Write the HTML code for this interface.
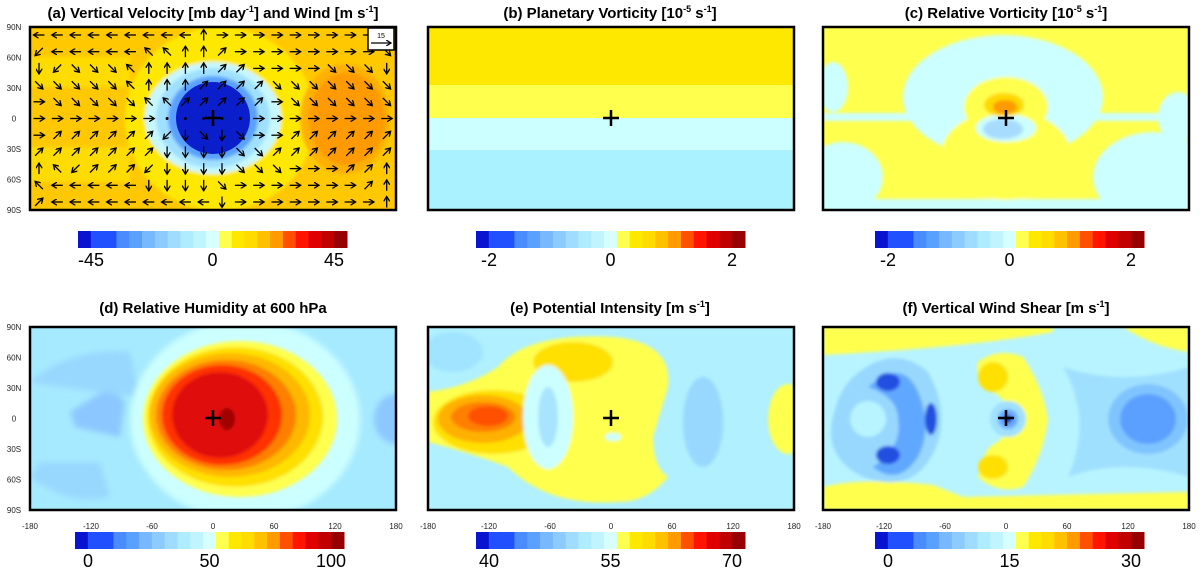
<!DOCTYPE html>
<html><head><meta charset="utf-8"><style>
body{margin:0;background:#fff;}
svg{display:block;font-family:"Liberation Sans",sans-serif;}
.t{font-weight:bold;font-size:15px;text-anchor:middle;}
.ax{font-size:8px;fill:#222;}
.cb{font-size:18px;text-anchor:middle;}
</style></head><body>
<svg id="fig" width="1200" height="570" viewBox="0 0 1200 570">
<defs>
<filter id="bl" x="-20%" y="-20%" width="140%" height="140%"><feGaussianBlur stdDeviation="3"/></filter>
<filter id="bl2"><feGaussianBlur stdDeviation="1.5"/></filter>
<clipPath id="cp"><rect x="0" y="0" width="366" height="183"/></clipPath>
<marker id="ah" markerWidth="5" markerHeight="5" refX="4" refY="2.5" orient="auto"><path d="M0,0 L4,2.5 L0,5" fill="none" stroke="#000" stroke-width="1"/></marker>
</defs>

<!-- titles -->
<text class="t" x="213" y="18">(a) Vertical Velocity [mb day<tspan dy="-6" font-size="9">-1</tspan><tspan dy="6">] and Wind [m s</tspan><tspan dy="-6" font-size="9">-1</tspan><tspan dy="6">]</tspan></text>
<text class="t" x="610" y="18">(b) Planetary Vorticity [10<tspan dy="-6" font-size="9">-5</tspan><tspan dy="6"> s</tspan><tspan dy="-6" font-size="9">-1</tspan><tspan dy="6">]</tspan></text>
<text class="t" x="1006" y="18">(c) Relative Vorticity [10<tspan dy="-6" font-size="9">-5</tspan><tspan dy="6"> s</tspan><tspan dy="-6" font-size="9">-1</tspan><tspan dy="6">]</tspan></text>
<text class="t" x="213" y="313">(d) Relative Humidity at 600 hPa</text>
<text class="t" x="610" y="313">(e) Potential Intensity [m s<tspan dy="-6" font-size="9">-1</tspan><tspan dy="6">]</tspan></text>
<text class="t" x="1006" y="313">(f) Vertical Wind Shear [m s<tspan dy="-6" font-size="9">-1</tspan><tspan dy="6">]</tspan></text>

<!-- panel a -->
<g transform="translate(30,27)">
 <g clip-path="url(#cp)">
  <rect width="366" height="183" fill="#ffc800"/>
  <g filter="url(#bl2)">
   <rect x="-10" y="30" width="110" height="30" fill="#ffdc00"/>
   <rect x="-10" y="120" width="110" height="35" fill="#ffdc00"/>
   <ellipse cx="190" cy="92" rx="95" ry="92" fill="#ffe800"/>
   <ellipse cx="315" cy="92" rx="45" ry="55" fill="#ffb000"/>
   <ellipse cx="317" cy="92" rx="38" ry="46" fill="#ff9a00"/>
   <ellipse cx="183" cy="91" rx="68" ry="56" fill="#c8f8ff"/>
   <ellipse cx="183" cy="91" rx="57" ry="50" fill="#a0e0ff"/>
   <ellipse cx="183" cy="91" rx="45" ry="42" fill="#5aa0ff"/>
  </g>
  <ellipse cx="183" cy="91" rx="37" ry="36" fill="#0a1ecc"/>
  <g id="arrows"></g>
 </g>
 <rect x="338" y="1" width="26" height="22" fill="#fff" stroke="#000" stroke-width="1.5"/>
 <text x="351" y="11" font-size="7" text-anchor="middle">15</text>
 <line x1="341" y1="16" x2="361" y2="16" stroke="#000" stroke-width="1.2" marker-end="url(#ah)"/>
 <rect width="366" height="183" fill="none" stroke="#000" stroke-width="2.5"/>
 <path d="M175,91h16M183,83v16" stroke="#000" stroke-width="2.5"/>
</g>

<!-- panel b -->
<g transform="translate(428,27)">
 <rect width="366" height="58" fill="#ffe800"/>
 <rect y="58" width="366" height="33" fill="#ffff4d"/>
 <rect y="91" width="366" height="32" fill="#ccffff"/>
 <rect y="123" width="366" height="60" fill="#aaf2ff"/>
 <rect width="366" height="183" fill="none" stroke="#000" stroke-width="2.5"/>
 <path d="M175,91h16M183,83v16" stroke="#000" stroke-width="2.5"/>
</g>

<!-- panel c -->
<g transform="translate(823,27)">
 <g clip-path="url(#cp)">
  <rect width="366" height="183" fill="#ffff4d"/>
  <g filter="url(#bl2)">
   <ellipse cx="180" cy="70" rx="100" ry="62" fill="#ccffff"/>
   <rect x="0" y="86" width="366" height="8" fill="#ccffff"/>
   <ellipse cx="330" cy="150" rx="60" ry="45" fill="#ccffff"/>
   <ellipse cx="20" cy="150" rx="40" ry="35" fill="#ccffff"/>
   <rect x="0" y="172" width="366" height="15" fill="#ccffff"/>
   <ellipse cx="10" cy="60" rx="15" ry="25" fill="#ccffff"/>
   <ellipse cx="355" cy="90" rx="20" ry="25" fill="#ccffff"/>
   <ellipse cx="183" cy="80" rx="42" ry="30" fill="#ffff4d"/>
   <ellipse cx="183" cy="128" rx="65" ry="45" fill="#ffff4d"/>
   <ellipse cx="183" cy="101" rx="30" ry="14" fill="#ccffff"/>
   <ellipse cx="180" cy="102" rx="20" ry="10" fill="#a8dcff"/>
   <ellipse cx="181" cy="78" rx="20" ry="12" fill="#ffd800"/>
   <ellipse cx="182" cy="80" rx="12" ry="7" fill="#ff9a00"/>
  </g>
 </g>
 <rect width="366" height="183" fill="none" stroke="#000" stroke-width="2.5"/>
 <path d="M175,91h16M183,83v16" stroke="#000" stroke-width="2.5"/>
</g>

<!-- panel d -->
<g transform="translate(30,327)">
 <g clip-path="url(#cp)">
  <rect width="366" height="183" fill="#a6eaff"/>
  <g filter="url(#bl)">
   <path d="M40,85 L80,60 L95,75 L90,110 L45,100 Z" fill="#8cc8ff"/>
   <path d="M0,55 Q40,20 100,25 L110,70 L30,60 Z" fill="#98d8ff"/>
   <path d="M0,150 Q40,180 80,170 L70,135 L10,135 Z" fill="#98d8ff"/>
   <ellipse cx="366" cy="92" rx="22" ry="25" fill="#8cc8ff"/>
   <ellipse cx="215" cy="93" rx="115" ry="100" fill="#ccffff"/>
  </g>
  <g filter="url(#bl2)">
   <ellipse cx="210" cy="92" rx="97" ry="78" fill="#ffff50"/>
   <ellipse cx="205" cy="90" rx="88" ry="70" fill="#ffe000"/>
   <ellipse cx="200" cy="88" rx="80" ry="62" fill="#ffb800"/>
   <ellipse cx="196" cy="88" rx="70" ry="55" fill="#ff8000"/>
   <ellipse cx="192" cy="88" rx="60" ry="50" fill="#ff3000"/>
   <ellipse cx="190" cy="88" rx="48" ry="43" fill="#e01010"/>
   <ellipse cx="197" cy="92" rx="8" ry="11" fill="#a00000"/>
  </g>
 </g>
 <rect width="366" height="183" fill="none" stroke="#000" stroke-width="2.5"/>
 <path d="M175,91h16M183,83v16" stroke="#000" stroke-width="2.5"/>
</g>

<!-- panel e -->
<g transform="translate(428,327)">
 <g clip-path="url(#cp)">
  <rect width="366" height="183" fill="#b0f0ff"/>
  <g filter="url(#bl2)">
   <ellipse cx="25" cy="25" rx="30" ry="20" fill="#a0e4ff"/>
   <ellipse cx="275" cy="95" rx="20" ry="45" fill="#98d8ff"/>
   <path d="M0,65 Q40,60 70,40 Q100,5 185,10 Q245,15 240,60 L225,110 Q225,140 240,150 Q220,175 190,175 Q120,180 80,140 Q40,125 0,115 Z" fill="#ffff4d"/>
   <ellipse cx="145" cy="35" rx="40" ry="20" fill="#ffe000"/>
   <ellipse cx="65" cy="95" rx="60" ry="32" fill="#ffe000"/>
   <ellipse cx="55" cy="92" rx="45" ry="24" fill="#ffb000"/>
   <ellipse cx="55" cy="90" rx="32" ry="15" fill="#ff8000"/>
   <ellipse cx="60" cy="89" rx="20" ry="10" fill="#ff5000"/>
   <ellipse cx="120" cy="90" rx="25" ry="52" fill="#ccffff"/>
   <ellipse cx="120" cy="90" rx="10" ry="30" fill="#a8e4ff"/>
   <ellipse cx="360" cy="92" rx="20" ry="35" fill="#ffff4d"/>
   <ellipse cx="185" cy="110" rx="8" ry="4" fill="#ccffff"/>
  </g>
 </g>
 <rect width="366" height="183" fill="none" stroke="#000" stroke-width="2.5"/>
 <path d="M175,91h16M183,83v16" stroke="#000" stroke-width="2.5"/>
</g>

<!-- panel f -->
<g transform="translate(823,327)">
 <g clip-path="url(#cp)">
  <rect width="366" height="183" fill="#b8f4ff"/>
  <g filter="url(#bl2)">
   <path d="M0,0 H230 V5 Q150,20 0,28 Z" fill="#ffff4d"/>
   <path d="M300,0 H366 V25 Q330,20 300,0 Z" fill="#ffff4d"/>
   <path d="M0,160 Q40,150 110,158 L140,170 L366,165 V183 H0 Z" fill="#ffff4d"/>
   <path d="M155,35 Q175,20 200,30 Q220,60 225,92 Q220,130 200,160 Q175,168 155,150 Q160,120 175,115 Q200,92 175,68 Q150,55 155,35 Z" fill="#ffff4d"/>
   <ellipse cx="170" cy="50" rx="15" ry="15" fill="#ffe000"/>
   <ellipse cx="170" cy="140" rx="15" ry="12" fill="#ffe000"/>
   <path d="M30,50 Q70,15 105,45 Q125,80 115,115 Q95,170 40,150 Q0,130 10,90 Q15,65 30,50 Z" fill="#98d8ff"/>
   <path d="M45,60 Q80,30 95,65 Q110,100 95,130 Q75,160 50,140 Q80,120 75,92 Q75,70 45,60 Z" fill="#60a8ff"/>
   <ellipse cx="65" cy="55" rx="12" ry="9" fill="#2050e0"/>
   <ellipse cx="108" cy="92" rx="6" ry="16" fill="#2050e0"/>
   <ellipse cx="65" cy="128" rx="12" ry="9" fill="#2050e0"/>
   <ellipse cx="45" cy="92" rx="18" ry="18" fill="#b8f4ff"/>
   <path d="M240,40 Q300,60 366,40 V150 Q300,130 245,150 Q270,92 240,40 Z" fill="#a0e0ff"/>
   <ellipse cx="325" cy="92" rx="40" ry="35" fill="#80c4ff"/>
   <ellipse cx="325" cy="92" rx="28" ry="25" fill="#5ca0ff"/>
   <ellipse cx="185" cy="92" rx="18" ry="18" fill="#a0e0ff"/>
   <ellipse cx="185" cy="92" rx="10" ry="10" fill="#6aaaff"/>
   <ellipse cx="185" cy="92" rx="4" ry="4" fill="#1030c0"/>
  </g>
 </g>
 <rect width="366" height="183" fill="none" stroke="#000" stroke-width="2.5"/>
 <path d="M175,91h16M183,83v16" stroke="#000" stroke-width="2.5"/>
</g>

<g id="axes"></g>
<g id="bars"></g>
</svg>
<script>
const NS="http://www.w3.org/2000/svg";
function mk(t,a,p){const e=document.createElementNS(NS,t);for(const k in a)e.setAttribute(k,a[k]);p.appendChild(e);return e;}
// wind direction grid (E,N,W,S, a=NE,b=NW,c=SW,d=SE, .=calm)
const windRows=[
"WWWWWWWWWNEEEEEEEEEE",
"cWWWWWbbNNaEEEEEEEEd",
"ScdddbNNNNaaEEEEdddS",
"dddddbNNNaaaaddddddd",
"EdddddbbaaaaaEdddddd",
"EEEEEEE.....EEEEEEEE",
"EaaaaaacSdSdEEaaaaaa",
"aaaaaaaSSSSddaaaaaaa",
"NbcaaacSSSSdddEEEaaN",
"bWWWWWSSSSdEEEEEEEaN",
"aWWWWWWWWWSEEEEEEEEN"];
const ang={E:0,N:-90,W:180,S:90,a:-45,b:-135,c:135,d:45};
const ag=document.getElementById('arrows');
windRows.forEach((row,r)=>{[...row].forEach((ch,c)=>{
 const cx=9+c*18.3, cy=8+r*16.7;
 if(ch==='.'){const d=mk('circle',{cx:cx,cy:cy,r:1.5,fill:'#000'},ag);
  
  return;}
 const a=ang[ch]*Math.PI/180,L=5.5;
 const l=mk('line',{x1:cx-L*Math.cos(a),y1:cy-L*Math.sin(a),x2:cx+L*Math.cos(a),y2:cy+L*Math.sin(a),stroke:'#000','stroke-width':1.3,'marker-end':'url(#ah)'},ag);
 
 
});});
// axes labels
const latLabels=["90N","60N","30N","0","30S","60S","90S"];
const lonLabels=["-180","-120","-60","0","60","120","180"];
const axg=document.getElementById('axes');
[27,327].forEach(y0=>{latLabels.forEach((s,i)=>{
 const t=mk('text',{x:14,y:y0+i*30.5+3,class:'ax','text-anchor':'middle'},axg);t.textContent=s;
 
 });});
[30,428,823].forEach(x0=>{lonLabels.forEach((s,i)=>{
 const t=mk('text',{x:x0+i*61,y:529,class:'ax','text-anchor':'middle'},axg);t.textContent=s;
 
 });});
// colorbars
const cbColors=["#0a14d0","#2050ff","#2050ff","#4a8cff","#5aa0ff","#78b8ff","#8ccaff","#a0dcff","#b0ecff","#c0f4ff","#d8ffff","#ffff50","#ffe800","#ffdc00","#ffc000","#ff9a00","#ff5000","#ff1400","#e00000","#c00000","#960000"];
const cbLabels=[["-45","0","45"],["-2","0","2"],["-2","0","2"],["0","50","100"],["40","55","70"],["0","15","30"]];
const cbX=[78,476,875,75,476,875], cbY=[231,231,231,532,532,532];
const bg=document.getElementById('bars');
cbLabels.forEach((labs,k)=>{
 const x0=cbX[k],y0=cbY[k],w=269,n=cbColors.length,sw=w/n;
 cbColors.forEach((c,i)=>{const r=mk('rect',{x:x0+i*sw,y:y0,width:sw+0.5,height:17,fill:c},bg);
  
  });
 const pos=[x0+13,x0+w/2,x0+w-13];
 labs.forEach((s,i)=>{const t=mk('text',{x:pos[i],y:y0+35,class:'cb'},bg);t.textContent=s;
  
  });
});
</script>
</body></html>
